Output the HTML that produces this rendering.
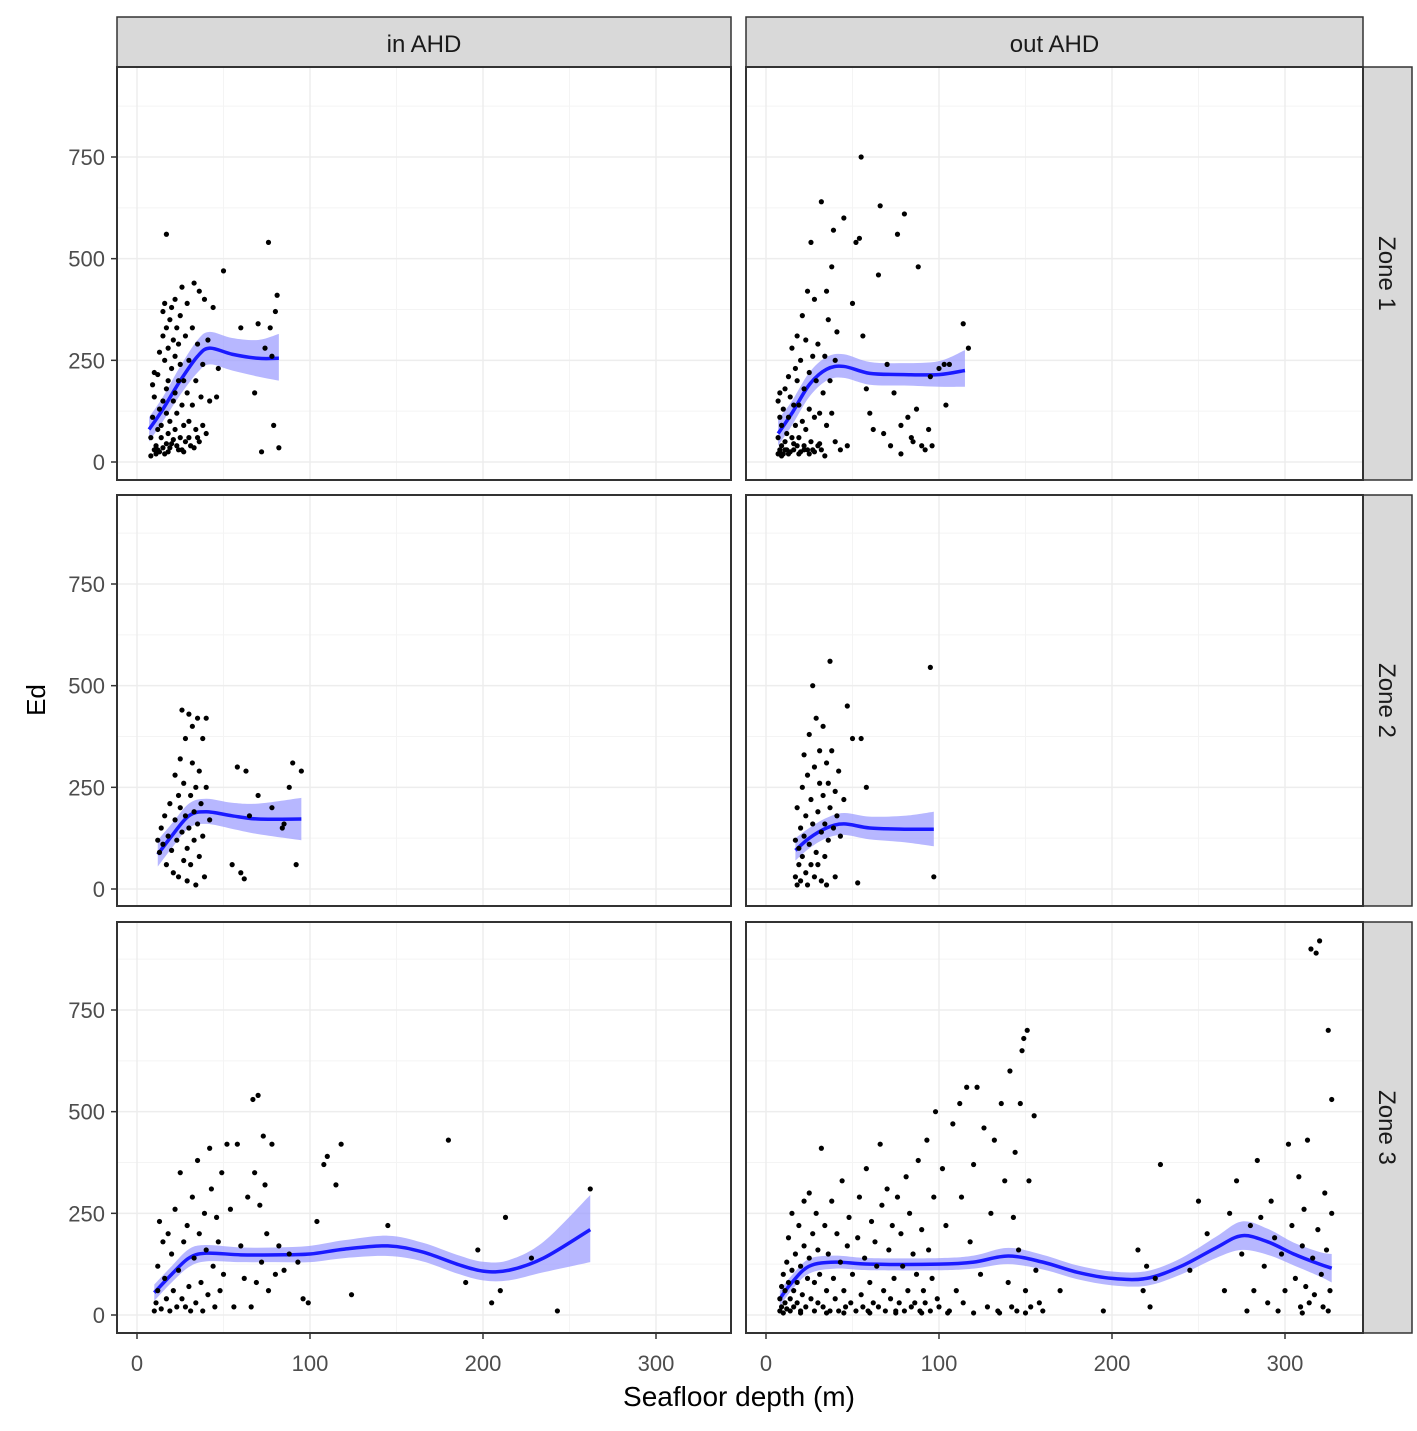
<!DOCTYPE html>
<html><head><meta charset="utf-8"><style>
html,body{margin:0;padding:0;background:#fff;}
svg{display:block;font-family:"Liberation Sans",sans-serif;}
</style></head><body>
<svg id="chart" width="1417" height="1431" viewBox="0 0 1417 1431" xmlns="http://www.w3.org/2000/svg"></svg>
<script>
// ---- data ----
const columns = ["in AHD","out AHD"];
const rows = ["Zone 1","Zone 2","Zone 3"];
const xTicks = [0,100,200,300];
const yTicks = [0,250,500,750];
// smooth fits: [x, fit, lo, hi]
const fitInZ1 = [[7,80,50,110],[15,130,100,160],[25,200,165,235],[35,260,220,300],[42,280,240,320],[55,265,225,305],[70,255,210,300],[82,255,200,315]];
const fitOutZ1 = [[7,70,40,105],[15,120,90,150],[25,190,160,220],[35,228,200,258],[45,235,207,265],[60,218,190,246],[80,215,188,243],[100,215,185,248],[115,225,185,275]];
const fitInZ2 = [[12,85,55,120],[20,130,100,160],[30,180,150,210],[40,190,160,222],[55,180,148,212],[70,172,135,210],[95,172,120,224]];
const fitOutZ2 = [[17,95,70,125],[25,125,100,150],[35,150,125,175],[45,160,133,187],[60,150,122,178],[80,147,115,180],[97,147,105,190]];
const fitInZ3 = [[10,55,35,75],[20,100,80,120],[30,140,118,162],[40,152,132,172],[60,148,130,166],[80,148,130,166],[100,150,130,170],[120,162,140,184],[145,170,145,195],[165,155,132,178],[185,125,102,148],[200,108,85,131],[215,110,85,135],[235,140,105,180],[262,210,130,295]];
const fitOutZ3 = [[8,40,20,60],[15,80,62,98],[25,120,102,138],[40,130,114,146],[60,125,110,140],[100,125,110,140],[120,130,114,146],[140,145,125,165],[160,130,112,148],[180,105,88,122],[200,90,73,107],[220,90,72,108],[240,120,100,140],[260,165,140,192],[275,195,160,230],[290,180,148,212],[305,150,122,178],[320,125,95,155],[327,115,80,150]];
// scatter points [x, Ed]
const ptsInZ1 = [[8,15],[8,60],[9,110],[9,190],[10,220],[10,160],[11,40],[12,30],[12,80],[12,215],[13,130],[13,270],[14,60],[14,90],[15,150],[15,310],[15,370],[16,20],[16,250],[16,390],[17,45],[17,120],[17,180],[17,330],[17,560],[18,70],[18,200],[18,280],[19,35],[19,100],[19,350],[20,230],[20,380],[21,55],[21,150],[21,300],[22,80],[22,170],[22,260],[22,400],[23,40],[23,120],[23,330],[24,200],[24,290],[25,60],[25,240],[25,360],[26,30],[26,140],[26,430],[27,90],[27,200],[28,50],[28,310],[29,170],[29,390],[30,100],[30,250],[31,40],[32,140],[32,330],[33,440],[34,80],[34,200],[35,60],[35,290],[36,420],[37,160],[38,90],[38,240],[39,400],[40,70],[41,300],[42,150],[44,380],[46,160],[47,230],[50,470],[60,330],[68,170],[70,340],[72,25],[74,280],[76,540],[77,330],[78,260],[79,90],[80,370],[81,410],[82,35],[10,30],[11,20],[13,25],[15,35],[18,25],[20,45],[24,30],[27,25],[30,60],[33,35],[36,50]];
const ptsOutZ1 = [[7,20],[7,60],[7,150],[8,30],[8,110],[8,170],[9,40],[9,90],[10,20],[10,130],[11,50],[11,180],[12,30],[12,70],[13,110],[13,210],[14,25],[14,160],[15,60],[15,280],[16,30],[16,140],[17,90],[17,230],[18,40],[18,200],[18,310],[19,60],[19,140],[20,25],[20,250],[21,100],[21,360],[22,40],[22,180],[23,80],[23,300],[24,30],[24,420],[25,130],[25,220],[26,50],[26,540],[27,30],[27,260],[28,110],[28,400],[29,200],[30,40],[30,290],[31,120],[32,30],[32,640],[33,170],[34,260],[35,90],[35,420],[36,350],[37,200],[38,120],[38,480],[39,570],[40,50],[40,250],[41,320],[43,30],[45,600],[47,40],[50,390],[52,540],[54,550],[55,750],[56,310],[58,180],[60,120],[62,80],[65,460],[66,630],[68,70],[70,240],[72,40],[74,170],[76,560],[78,90],[78,20],[80,610],[82,110],[84,60],[85,50],[87,130],[88,480],[90,40],[92,30],[94,80],[95,210],[96,40],[100,230],[103,240],[104,140],[106,240],[114,340],[117,280],[8,25],[9,15],[11,30],[13,20],[16,45],[19,20],[22,30],[25,20],[28,25],[31,45],[34,15]];
const ptsInZ2 = [[12,120],[13,90],[14,150],[15,110],[16,180],[17,60],[18,130],[19,210],[20,95],[21,40],[22,170],[22,280],[23,120],[24,230],[24,30],[25,320],[25,200],[26,140],[26,440],[27,70],[27,260],[28,180],[28,370],[29,100],[29,20],[30,430],[30,150],[31,230],[31,60],[32,310],[32,400],[33,190],[33,120],[34,250],[34,10],[35,420],[35,160],[36,80],[36,290],[37,210],[38,130],[38,370],[39,30],[40,420],[40,250],[42,170],[55,60],[58,300],[60,40],[62,25],[63,290],[65,180],[70,230],[78,200],[84,150],[85,160],[88,250],[90,310],[92,60],[95,290]];
const ptsOutZ2 = [[17,30],[17,120],[18,10],[18,200],[19,60],[19,100],[20,150],[20,20],[21,250],[21,80],[22,130],[22,330],[23,40],[23,180],[24,280],[24,10],[25,110],[25,380],[26,60],[26,220],[27,160],[27,500],[28,30],[28,300],[29,90],[29,420],[30,190],[30,60],[31,260],[31,340],[32,140],[32,20],[33,400],[33,230],[34,80],[34,160],[35,310],[35,10],[36,120],[36,260],[37,200],[37,560],[38,340],[39,150],[40,240],[40,30],[41,180],[42,290],[43,130],[45,220],[47,450],[50,370],[53,15],[55,370],[58,250],[95,545],[97,30]];
const ptsInZ3 = [[10,10],[11,30],[12,120],[12,60],[13,230],[14,15],[15,180],[16,90],[17,40],[18,200],[19,10],[20,150],[21,60],[22,260],[23,20],[24,110],[25,350],[26,40],[27,180],[28,20],[29,220],[30,70],[31,10],[32,290],[33,140],[34,30],[35,380],[36,200],[37,80],[38,10],[39,250],[40,160],[41,50],[42,410],[43,310],[44,120],[45,20],[46,240],[47,180],[48,60],[49,350],[50,100],[52,420],[54,260],[56,20],[58,420],[60,170],[62,90],[64,290],[66,20],[67,530],[68,350],[69,80],[70,540],[71,270],[72,130],[73,440],[74,320],[75,200],[76,60],[78,420],[80,100],[82,170],[85,110],[88,150],[93,130],[96,40],[99,30],[104,230],[108,370],[110,390],[115,320],[118,420],[124,50],[145,220],[180,430],[190,80],[197,160],[205,30],[210,60],[213,240],[228,140],[243,10],[262,310]];
const ptsOutZ3 = [[8,10],[8,40],[9,70],[9,20],[10,100],[10,5],[11,30],[11,60],[12,130],[12,15],[13,80],[13,190],[14,40],[14,10],[15,250],[15,110],[16,60],[16,20],[17,150],[18,30],[18,80],[19,220],[20,10],[20,120],[21,50],[22,280],[22,170],[23,20],[24,90],[25,300],[25,140],[26,40],[27,200],[28,10],[28,80],[29,250],[30,30],[30,160],[31,100],[32,410],[33,20],[34,220],[35,60],[36,150],[37,10],[38,280],[39,90],[40,40],[41,200],[42,10],[43,130],[44,330],[45,60],[46,20],[47,170],[48,240],[49,30],[50,100],[52,10],[53,190],[54,290],[55,50],[56,20],[57,140],[58,360],[59,10],[60,80],[61,230],[62,30],[63,180],[64,120],[65,20],[66,420],[67,270],[68,60],[69,10],[70,310],[71,160],[72,40],[73,220],[74,90],[75,10],[76,290],[77,30],[78,200],[79,120],[80,10],[81,340],[82,60],[83,250],[84,20],[85,150],[86,30],[87,100],[88,380],[89,10],[90,210],[91,60],[92,30],[93,430],[94,160],[95,10],[96,90],[97,290],[98,500],[99,40],[100,20],[102,360],[104,220],[106,10],[108,470],[110,60],[112,520],[113,290],[114,30],[116,560],[118,180],[120,370],[122,560],[124,100],[126,460],[128,20],[130,250],[132,430],[134,10],[136,520],[138,330],[140,80],[141,600],[142,20],[143,240],[144,400],[145,10],[146,160],[147,520],[148,650],[149,680],[150,60],[151,700],[152,330],[153,20],[155,490],[156,110],[158,30],[160,10],[170,60],[195,10],[215,160],[218,60],[220,120],[222,20],[225,90],[228,370],[245,110],[250,280],[255,200],[265,60],[268,250],[272,330],[275,150],[278,10],[280,220],[282,60],[284,380],[286,240],[288,120],[290,30],[292,280],[294,190],[296,10],[298,150],[300,60],[302,420],[304,220],[306,90],[308,340],[309,20],[310,170],[311,260],[312,70],[313,430],[314,30],[315,900],[316,140],[317,50],[318,890],[319,210],[320,920],[321,100],[322,20],[323,300],[324,160],[325,700],[326,60],[327,530],[327,250],[20,5],[35,5],[45,5],[60,5],[75,5],[90,5],[105,5],[120,5],[135,5],[150,5],[310,5],[325,10]];

const fits = [[fitInZ1,fitOutZ1],[fitInZ2,fitOutZ2],[fitInZ3,fitOutZ3]];
const pts = [[ptsInZ1,ptsOutZ1],[ptsInZ2,ptsOutZ2],[ptsInZ3,ptsOutZ3]];

// ---- layout ----
const NS="http://www.w3.org/2000/svg";
const svg=document.getElementById('chart');
const colX=[[117,731],[746,1363]];
const rowY=[[67,480],[495,906],[922,1333]];
const zeroY=[462,889,1315];
const yScaleK=305/750;
const xZero=[137,766];
const xK=173/100;
function el(tag,attrs,parent){const e=document.createElementNS(NS,tag);for(const k in attrs)e.setAttribute(k,attrs[k]);(parent||svg).appendChild(e);return e;}
function sx(c,v){return xZero[c]+v*xK;}
function sy(r,v){return zeroY[r]-v*yScaleK;}
// Catmull-Rom smooth path through points (array of [x,y])
function smooth(P,start){
  let d=(start?'M':'L')+P[0][0]+','+P[0][1];
  for(let i=0;i<P.length-1;i++){
    const p0=P[Math.max(0,i-1)],p1=P[i],p2=P[i+1],p3=P[Math.min(P.length-1,i+2)];
    const c1=[p1[0]+(p2[0]-p0[0])/6,p1[1]+(p2[1]-p0[1])/6];
    const c2=[p2[0]-(p3[0]-p1[0])/6,p2[1]-(p3[1]-p1[1])/6];
    d+=` C${c1[0]},${c1[1]} ${c2[0]},${c2[1]} ${p2[0]},${p2[1]}`;
  }
  return d;
}

// column strips
columns.forEach((name,c)=>{
  const g=el('g',{});
  
  
  el('rect',{x:colX[c][0],y:17,width:colX[c][1]-colX[c][0],height:50,fill:'#d9d9d9',stroke:'#333','stroke-width':1.5},g);
  const t=el('text',{x:(colX[c][0]+colX[c][1])/2,y:52,'text-anchor':'middle','font-size':24,fill:'#1a1a1a'},g);
  t.textContent=name;
});
// row strips
rows.forEach((name,r)=>{
  const g=el('g',{});
  
  
  el('rect',{x:1363,y:rowY[r][0],width:49,height:rowY[r][1]-rowY[r][0],fill:'#d9d9d9',stroke:'#333','stroke-width':1.5},g);
  const cy=(rowY[r][0]+rowY[r][1])/2;
  const t=el('text',{x:1379,y:cy,'text-anchor':'middle','font-size':24,fill:'#1a1a1a',transform:`rotate(90 1379 ${cy})`},g);
  t.textContent=name;
});

for(let r=0;r<3;r++)for(let c=0;c<2;c++){
  const g=el('g',{});
  
  
  const [x0,x1]=colX[c],[y0,y1]=rowY[r];
  el('rect',{x:x0,y:y0,width:x1-x0,height:y1-y0,fill:'#fff'},g);
  [125,375,625,875].forEach(v=>el('line',{x1:x0,x2:x1,y1:sy(r,v),y2:sy(r,v),stroke:'#f4f4f4','stroke-width':1},g));
  [50,150,250].forEach(v=>el('line',{x1:sx(c,v),x2:sx(c,v),y1:y0,y2:y1,stroke:'#f4f4f4','stroke-width':1},g));
  yTicks.forEach(v=>el('line',{x1:x0,x2:x1,y1:sy(r,v),y2:sy(r,v),stroke:'#ededed','stroke-width':1.5},g));
  xTicks.forEach(v=>el('line',{x1:sx(c,v),x2:sx(c,v),y1:y0,y2:y1,stroke:'#ededed','stroke-width':1.5},g));
  // band
  const f=fits[r][c];
  const up=f.map(q=>[sx(c,q[0]),sy(r,q[3])]);
  const lo=f.slice().reverse().map(q=>[sx(c,q[0]),sy(r,q[2])]);
  const band=el('path',{d:smooth(up,true)+' '+smooth(lo,false)+' Z',fill:'#9999ff','fill-opacity':0.7},g);
  
  
  const line=el('path',{d:smooth(f.map(q=>[sx(c,q[0]),sy(r,q[1])]),true),fill:'none',stroke:'#1a1aff','stroke-width':3.5,'stroke-linejoin':'round'},g);
  
  
  // points on top
  pts[r][c].forEach(p=>{
    const d=el('circle',{cx:sx(c,p[0]),cy:sy(r,p[1]),r:2.6,fill:'#000'},g);
    
    
  });
  el('rect',{x:x0,y:y0,width:x1-x0,height:y1-y0,fill:'none',stroke:'#333','stroke-width':2},g);
  if(c===0){yTicks.forEach(v=>{
    el('line',{x1:x0-6,x2:x0,y1:sy(r,v),y2:sy(r,v),stroke:'#333','stroke-width':1.5});
    const t=el('text',{x:x0-12,y:sy(r,v)+8,'text-anchor':'end','font-size':22,fill:'#4d4d4d'});
    
    
    t.textContent=v;
  });}
  if(r===2){xTicks.forEach(v=>{
    el('line',{x1:sx(c,v),x2:sx(c,v),y1:y1,y2:y1+6,stroke:'#333','stroke-width':1.5});
    const t=el('text',{x:sx(c,v),y:y1+38,'text-anchor':'middle','font-size':22,fill:'#4d4d4d'});
    
    
    t.textContent=v;
  });}
}
const xt=el('text',{x:739,y:1406,'text-anchor':'middle','font-size':28,fill:'#000'});


xt.textContent='Seafloor depth (m)';
const yt=el('text',{x:45,y:700,'text-anchor':'middle','font-size':26,fill:'#000',transform:'rotate(-90 45 700)'});


yt.textContent='Ed';
</script>
</body></html>
